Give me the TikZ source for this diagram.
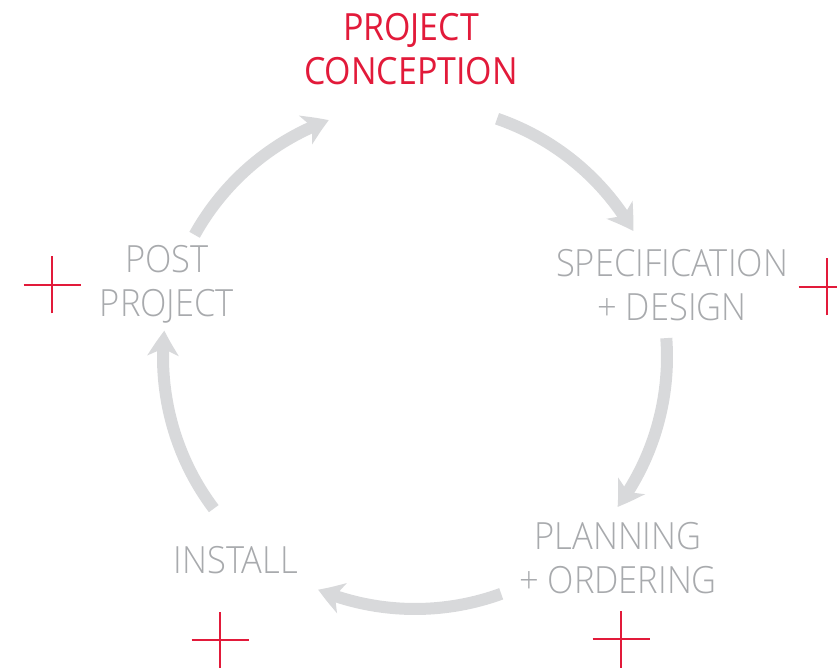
\documentclass[tikz,border=0pt]{standalone}
\usepackage{fontspec}
\setmainfont{Open Sans}[FakeStretch=0.905]
\newfontfamily\lightfont{Open Sans Light}[FakeStretch=0.92]
\usetikzlibrary{arrows.meta,bending,calc}
\definecolor{cred}{RGB}{226,26,58}
\definecolor{ctext}{RGB}{168,170,173}
\definecolor{carrow}{RGB}{216,217,219}
\tikzset{
  x=1pt,y=1pt,
  redlabel/.style={text=cred,font=\fontsize{37.5}{44}\selectfont,align=center,inner sep=0pt},
  graylabel/.style={text=ctext,font=\lightfont\fontsize{37.5}{44}\selectfont,align=center,inner sep=0pt},
  cyclearrow/.style={draw=carrow,line width=12pt,-{Stealth[length=25pt,width=31pt,inset=7pt,bend]}},
  crossline/.style={draw=cred,line width=2.6pt}
}
\begin{document}
\begin{tikzpicture}
\useasboundingbox (0,0) rectangle (837,667);
\coordinate (c) at (415,310);
% labels
\node[redlabel] (concept) at (411,618) {PROJECT\\CONCEPTION};
\node[graylabel] (spec) at (672,382) {SPECIFICATION\\+ DESIGN};
\node[graylabel] (plan) at (618,109) {PLANNING\\+ ORDERING};
\node[graylabel] (install) at (236,107) {INSTALL};
\node[graylabel] (post) at (167,383) {POST\\PROJECT};
% arrows
\coordinate (a1) at ($(c)+(71:252)$);
\coordinate (a2) at ($(c)+(4.3:252)$);
\coordinate (a3) at ($(c)+(-70:252)$);
\coordinate (a4) at ($(c)+(-143:252)$);
\coordinate (a5) at ($(c)+(151:252)$);
\draw[cyclearrow] (a1) arc[start angle=71,end angle=30,radius=252];
\draw[cyclearrow] (a2) arc[start angle=4.3,end angle=-36.5,radius=252];
\draw[cyclearrow] (a3) arc[start angle=-70,end angle=-112.6,radius=252];
\draw[cyclearrow] (a4) arc[start angle=-143,end angle=-186,radius=252];
\draw[cyclearrow] (a5) arc[start angle=151,end angle=110,radius=252];
% crosses
\coordinate (x1) at (52,382);
\coordinate (x2) at (827,380);
\coordinate (x3) at (220,27);
\coordinate (x4) at (621,28);
\foreach \p in {x1,x2,x3,x4}{
  \draw[crossline] ($(\p)+(-28.5,0)$) -- ($(\p)+(28.5,0)$);
  \draw[crossline] ($(\p)+(0,-28.5)$) -- ($(\p)+(0,28.5)$);
}
\end{tikzpicture}
\end{document}
